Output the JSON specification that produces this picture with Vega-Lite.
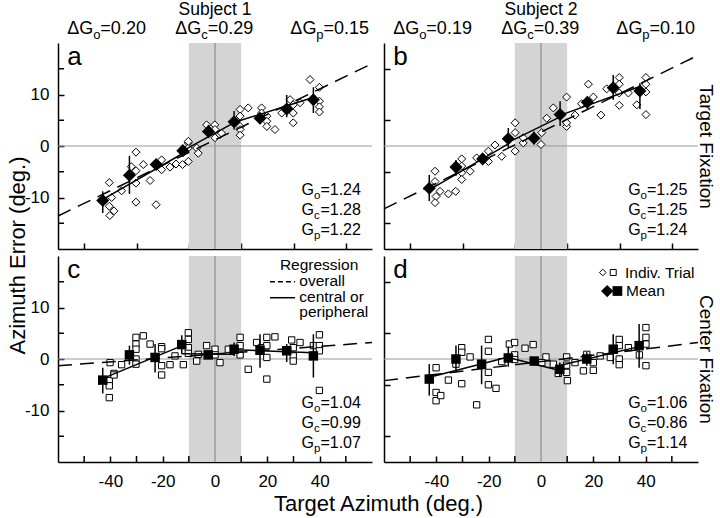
{
"$schema":"https://vega.github.io/schema/vega-lite/v6.json",
"background":"white",
"padding":{"left":6,"top":0,"right":8,"bottom":2},
"columns":2,
"spacing":{"row":7,"column":12},
"bounds":"flush",
"datasets":{
"one":[{"n":1}],
"xminor":[{"v":-50},{"v":-30},{"v":-10},{"v":10},{"v":30},{"v":50}],
"yminor":[{"v":-15},{"v":-5},{"v":5},{"v":15}],
"a_t":[{"x":-40.4,"y":-7.1},{"x":-40.4,"y":-11.7},{"x":-38.6,"y":-12.6},{"x":-40.2,"y":-13.5},{"x":-39.5,"y":-10},{"x":-35.7,"y":-8.7},{"x":-32,"y":-4},{"x":-30.2,"y":-1.2},{"x":-30.2,"y":-4.8},{"x":-30.2,"y":-7.2},{"x":-30.2,"y":-10.9},{"x":-27.4,"y":-3.6},{"x":-24.8,"y":-6.7},{"x":-22.5,"y":-11.4},{"x":-20.4,"y":-2.7},{"x":-20.4,"y":-4.6},{"x":-17.2,"y":-4.1},{"x":-14.9,"y":-3.5},{"x":-12.4,"y":-3.6},{"x":-10.2,"y":0.6},{"x":-10.2,"y":-3},{"x":-10.2,"y":-0.4},{"x":-10.2,"y":0.9},{"x":-7,"y":-0.4},{"x":-6.4,"y":-1.4},{"x":-3.2,"y":4.1},{"x":-0.1,"y":4.1},{"x":0,"y":3.2},{"x":0,"y":1.6},{"x":1.9,"y":2.2},{"x":2.5,"y":2.5},{"x":9.6,"y":7.1},{"x":12.7,"y":7.4},{"x":9.6,"y":5.8},{"x":9.6,"y":3.8},{"x":9.6,"y":3.2},{"x":9.6,"y":2.1},{"x":17.8,"y":7.4},{"x":17.8,"y":6.4},{"x":19.8,"y":5.8},{"x":19.8,"y":4.8},{"x":19.8,"y":3.8},{"x":22.9,"y":3.2},{"x":25.5,"y":6.4},{"x":28.7,"y":9},{"x":29.9,"y":8},{"x":29.9,"y":6.4},{"x":29.9,"y":4.5},{"x":32.5,"y":8.4},{"x":36.3,"y":12.9},{"x":39.9,"y":11.4},{"x":39.9,"y":8.7},{"x":39.9,"y":7.6},{"x":39.9,"y":6.6}],
"a_m":[{"x":-42.9,"y":-10.6,"lo":-13,"hi":-8.8},{"x":-32.7,"y":-5.7,"lo":-9.3,"hi":-1.9},{"x":-22.5,"y":-3.6,"lo":-4.6,"hi":-2.7},{"x":-12.3,"y":-0.9,"lo":-2,"hi":0.2},{"x":-2.5,"y":2.8,"lo":1.6,"hi":4.1},{"x":7.3,"y":4.7,"lo":3.2,"hi":6.8},{"x":17.2,"y":5.4,"lo":4.6,"hi":6.2},{"x":27.4,"y":7.2,"lo":5.6,"hi":9.9},{"x":37.6,"y":9,"lo":6.4,"hi":11.4}],
"a_r":[{"seg":"ov","x":-60,"y":-13.6},{"seg":"ov","x":60,"y":16},{"seg":"L","x":-43,"y":-10.4},{"seg":"L","x":-12.5,"y":-1.5},{"seg":"C","x":-12.5,"y":-1},{"seg":"C","x":7.5,"y":4.6},{"seg":"R","x":7.5,"y":4.6},{"seg":"R","x":37.5,"y":9.4}],
"b_t":[{"x":-40.5,"y":-4.9},{"x":-40.5,"y":-6.9},{"x":-40.1,"y":-9.8},{"x":-40.5,"y":-11},{"x":-38.6,"y":-8.8},{"x":-35.4,"y":-9.3},{"x":-32.6,"y":-8.8},{"x":-30.3,"y":-2.5},{"x":-30.3,"y":-3.9},{"x":-30.3,"y":-5.2},{"x":-30.3,"y":-6.5},{"x":-27.1,"y":-4.9},{"x":-24.6,"y":-2.3},{"x":-20.1,"y":-1},{"x":-20.1,"y":-3},{"x":-17.6,"y":0.2},{"x":-15,"y":-2},{"x":-9.9,"y":-1},{"x":-6.8,"y":0.6},{"x":0,"y":0.3},{"x":-9.9,"y":4.5},{"x":-9.9,"y":2.6},{"x":-6.8,"y":1.6},{"x":0.3,"y":2.6},{"x":2.2,"y":5.4},{"x":4.7,"y":7.4},{"x":9.8,"y":9.5},{"x":9.8,"y":3.8},{"x":9.8,"y":4.5},{"x":13,"y":6},{"x":15.5,"y":8.2},{"x":18.1,"y":12},{"x":20,"y":9.5},{"x":22.9,"y":6},{"x":25.1,"y":11.1},{"x":29.9,"y":13.3},{"x":29.9,"y":12},{"x":29.9,"y":10.3},{"x":29.9,"y":7.9},{"x":33.4,"y":10.3},{"x":36.6,"y":8},{"x":40.1,"y":13.3},{"x":40.1,"y":12},{"x":40.1,"y":10.5},{"x":40.1,"y":6.1}],
"b_m":[{"x":-42.7,"y":-8.2,"lo":-10.7,"hi":-5.6},{"x":-32.5,"y":-4.1,"lo":-5.8,"hi":-2.7},{"x":-22.3,"y":-2.5,"lo":-3.2,"hi":-1.8},{"x":-12.5,"y":1.4,"lo":-0.4,"hi":3.5},{"x":-2.7,"y":1.5,"lo":0.3,"hi":2.8},{"x":7.3,"y":6.1,"lo":3.9,"hi":8.7},{"x":17.7,"y":8.5,"lo":7.2,"hi":9.5},{"x":27.6,"y":11.3,"lo":9,"hi":13.8},{"x":37.8,"y":10.7,"lo":7.2,"hi":12.2}],
"b_r":[{"seg":"ov","x":-60,"y":-12.2},{"seg":"ov","x":60,"y":17.6},{"seg":"L","x":-43,"y":-8.6},{"seg":"L","x":-12.5,"y":0.4},{"seg":"C","x":-12.5,"y":0.7},{"seg":"C","x":7.5,"y":5.7},{"seg":"R","x":7.5,"y":6},{"seg":"R","x":37.5,"y":11.5}],
"c_t":[{"x":-40.1,"y":-0.7},{"x":-38.6,"y":-2.8},{"x":-35.7,"y":-1.1},{"x":-30.2,"y":4.2},{"x":-30.2,"y":2.9},{"x":-30.2,"y":1.9},{"x":-30.2,"y":0},{"x":-30.2,"y":-1},{"x":-27.4,"y":4.5},{"x":-24.8,"y":2.9},{"x":-20.4,"y":2.4},{"x":-20.4,"y":2},{"x":-20.4,"y":-1.3},{"x":-17.2,"y":-1.1},{"x":-15.3,"y":0.6},{"x":-12.1,"y":-1.1},{"x":-10.2,"y":5.1},{"x":-10.2,"y":3.8},{"x":-10.2,"y":2.2},{"x":-10.2,"y":1.1},{"x":-7,"y":-0.4},{"x":-6.4,"y":0.9},{"x":-3.2,"y":2.6},{"x":0,"y":1.9},{"x":0,"y":0.8},{"x":1.9,"y":-0.7},{"x":5.1,"y":1.9},{"x":9.6,"y":4.2},{"x":9.6,"y":2.6},{"x":9.6,"y":0.8},{"x":12.7,"y":-2},{"x":15.9,"y":3.2},{"x":17.8,"y":2.2},{"x":19.8,"y":4.2},{"x":19.8,"y":2.6},{"x":19.8,"y":0.3},{"x":22.9,"y":4.3},{"x":29.3,"y":3.7},{"x":29.9,"y":2.2},{"x":29.9,"y":0.6},{"x":29.9,"y":-0.4},{"x":32.5,"y":3.2},{"x":37.6,"y":2.6},{"x":39.9,"y":4.7},{"x":39.9,"y":2.6},{"x":39.9,"y":1.6},{"x":-40.4,"y":-4.2},{"x":-40.4,"y":-5.2},{"x":-40.4,"y":-7.5},{"x":-38.6,"y":-3.1},{"x":-20.4,"y":-3.1},{"x":19.8,"y":-3.9},{"x":39.9,"y":-6.1}],
"c_m":[{"x":-42.9,"y":-4.1,"lo":-6.7,"hi":-1.7},{"x":-32.7,"y":0.8,"lo":-1.1,"hi":2.6},{"x":-22.9,"y":0.3,"lo":-2.6,"hi":2.9},{"x":-12.7,"y":2.8,"lo":0.9,"hi":4.6},{"x":-2.6,"y":0.8,"lo":0,"hi":1.6},{"x":7.3,"y":1.9,"lo":0.6,"hi":3.2},{"x":17.2,"y":1.7,"lo":-1.7,"hi":4.8},{"x":27.4,"y":1.6,"lo":-0.6,"hi":2.9},{"x":37.6,"y":0.6,"lo":-3.6,"hi":4.8}],
"c_r":[{"seg":"ov","x":-60,"y":-1.3},{"seg":"ov","x":60,"y":3.2},{"seg":"L","x":-43,"y":-3.8},{"seg":"L","x":-12.5,"y":2.6},{"seg":"C","x":-12.5,"y":1},{"seg":"C","x":7.5,"y":0.9},{"seg":"R","x":7.5,"y":1.8},{"seg":"R","x":37.5,"y":1.2}],
"d_t":[{"x":-40.1,"y":-1.7},{"x":-32.5,"y":-1},{"x":-30.3,"y":2.2},{"x":-30.3,"y":1.3},{"x":-27.1,"y":0.4},{"x":-20.1,"y":-2.6},{"x":-20.1,"y":1.5},{"x":-20.1,"y":3.8},{"x":-15,"y":-0.5},{"x":-12.1,"y":2.9},{"x":-10.1,"y":3.2},{"x":-10.1,"y":0.8},{"x":-10.1,"y":-0.1},{"x":-6.1,"y":2.1},{"x":-3,"y":2.8},{"x":1.9,"y":0.4},{"x":0.3,"y":-0.7},{"x":4.7,"y":-1},{"x":6.6,"y":-2.8},{"x":9.8,"y":0.4},{"x":9.8,"y":-1.2},{"x":9.8,"y":-2.6},{"x":13,"y":-0.7},{"x":17.5,"y":0.9},{"x":20,"y":-0.7},{"x":20,"y":-2.2},{"x":22.6,"y":0.6},{"x":26.5,"y":0.3},{"x":29.9,"y":3.8},{"x":29.9,"y":2.6},{"x":29.9,"y":0},{"x":29.9,"y":-1.1},{"x":33.4,"y":2.2},{"x":37.6,"y":0.8},{"x":40.1,"y":6.1},{"x":40.1,"y":4.2},{"x":40.1,"y":2.9},{"x":40.1,"y":-1.3},{"x":-40.1,"y":-6.5},{"x":-40.1,"y":-8.1},{"x":-38.3,"y":-7.1},{"x":-35.4,"y":-4.1},{"x":-30.3,"y":-4.8},{"x":-24.6,"y":-8.9},{"x":-20.1,"y":-5},{"x":-17.2,"y":-5.7},{"x":10.1,"y":-4.2},{"x":16.2,"y":-2.3}],
"d_m":[{"x":-42.7,"y":-3.9,"lo":-7.1,"hi":-1},{"x":-32.5,"y":0,"lo":-2.6,"hi":2.6},{"x":-22.7,"y":-1,"lo":-4.9,"hi":2.6},{"x":-12.5,"y":0.2,"lo":-1.5,"hi":2.4},{"x":-2.6,"y":-0.4,"lo":-1.2,"hi":0.4},{"x":7.2,"y":-2,"lo":-3.5,"hi":-0.7},{"x":17.5,"y":0,"lo":-1.3,"hi":1.3},{"x":27.6,"y":1.9,"lo":-1,"hi":4.8},{"x":37.5,"y":2.6,"lo":-1.7,"hi":6.8}],
"d_r":[{"seg":"ov","x":-60,"y":-4.2},{"seg":"ov","x":60,"y":3.2},{"seg":"L","x":-43,"y":-3.6},{"seg":"L","x":-12.5,"y":0.4},{"seg":"C","x":-12.5,"y":0.3},{"seg":"C","x":7.5,"y":-2.3},{"seg":"R","x":7.5,"y":-1.2},{"seg":"R","x":37.5,"y":2.4}]
},
"concat":[
{"width":314,"height":206,"layer":[
{"data":{"name":"one"},"mark":{"type":"rect","color":"#d4d4d4"},"encoding":{"x":{"datum":-10,"type":"quantitative","scale":{"domain":[-60,60],"nice":false,"zero":false},"axis":{"values":[-50,-40,-30,-20,-10,0,10,20,30,40,50],"labels":false,"title":null}},"x2":{"datum":10},"y":{"datum":-20,"type":"quantitative","scale":{"domain":[-20,20],"nice":false,"zero":false},"axis":{"values":[-10,0,10],"labelExpr":"replace(datum.label, '\u2212', '-')","title":"Azimuth Error (deg.)","titleX":-41,"titleY":212,"titleAngle":-90,"titleBaseline":"middle","titleAlign":"center","titleFontSize":22}},"y2":{"datum":20}}},
{"data":{"name":"yminor"},"mark":{"type":"rule","color":"black","strokeWidth":1.5},"encoding":{"y":{"field":"v","type":"quantitative"},"x":{"datum":-60,"type":"quantitative"},"x2":{"datum":-57.7}}},
{"data":{"name":"one"},"mark":{"type":"rule","color":"#7f7f7f","strokeWidth":1},"encoding":{"x":{"datum":0,"type":"quantitative"},"y":{"datum":-20,"type":"quantitative"},"y2":{"datum":20}}},
{"data":{"name":"one"},"mark":{"type":"rule","color":"#999999","strokeWidth":1},"encoding":{"x":{"datum":-60,"type":"quantitative"},"x2":{"datum":60},"y":{"datum":0,"type":"quantitative"}}},
{"data":{"name":"a_t"},"mark":{"type":"point","shape":"diamond","filled":true,"fill":"white","stroke":"black","strokeWidth":1,"size":64,"opacity":1},"encoding":{"x":{"field":"x","type":"quantitative"},"y":{"field":"y","type":"quantitative"}}},
{"data":{"name":"a_r"},"transform":[{"filter":"datum.seg == 'ov'"}],"mark":{"type":"line","color":"black","strokeWidth":1.5,"strokeDash":[14,8]},"encoding":{"x":{"field":"x","type":"quantitative"},"y":{"field":"y","type":"quantitative"}}},
{"data":{"name":"a_r"},"transform":[{"filter":"datum.seg != 'ov'"}],"mark":{"type":"line","color":"black","strokeWidth":1.5},"encoding":{"x":{"field":"x","type":"quantitative"},"y":{"field":"y","type":"quantitative"},"detail":{"field":"seg"}}},
{"data":{"name":"a_m"},"mark":{"type":"rule","color":"black","strokeWidth":1.5},"encoding":{"x":{"field":"x","type":"quantitative"},"y":{"field":"lo","type":"quantitative"},"y2":{"field":"hi"}}},
{"data":{"name":"a_m"},"mark":{"type":"point","shape":"diamond","filled":true,"color":"black","size":170,"opacity":1},"encoding":{"x":{"field":"x","type":"quantitative"},"y":{"field":"y","type":"quantitative"}}},
{"data":{"name":"one"},"mark":{"type":"text","text":"a","fontSize":26,"align":"left","baseline":"alphabetic","color":"black"},"encoding":{"x":{"datum":-56.5,"type":"quantitative"},"y":{"datum":15.7,"type":"quantitative"}}},
{"data":{"name":"one"},"mark":{"type":"text","text":"G|G|G","lineBreak":"|","lineHeight":20,"fontSize":16,"align":"left","baseline":"alphabetic","color":"black"},"encoding":{"x":{"datum":33.1,"type":"quantitative"},"y":{"datum":-9.5,"type":"quantitative"}}},
{"data":{"name":"one"},"mark":{"type":"text","text":"o|c|p","lineBreak":"|","lineHeight":20,"fontSize":11.5,"dx":12.4,"dy":4,"align":"left","baseline":"alphabetic","color":"black"},"encoding":{"x":{"datum":33.1,"type":"quantitative"},"y":{"datum":-9.5,"type":"quantitative"}}},
{"data":{"name":"one"},"mark":{"type":"text","text":"=1.24|=1.28|=1.22","lineBreak":"|","lineHeight":20,"fontSize":16,"dx":18.8,"align":"left","baseline":"alphabetic","color":"black"},"encoding":{"x":{"datum":33.1,"type":"quantitative"},"y":{"datum":-9.5,"type":"quantitative"}}},
{"data":{"name":"one"},"mark":{"type":"text","text":"Subject 1","fontSize":17.5,"align":"center","baseline":"alphabetic","dy":-28.5,"color":"black"},"encoding":{"x":{"datum":0,"type":"quantitative"},"y":{"datum":20,"type":"quantitative"}}},
{"data":{"name":"one"},"mark":{"type":"text","text":"ΔG","fontSize":18,"align":"left","baseline":"alphabetic","dy":-9,"color":"black"},"encoding":{"x":{"datum":-56.5,"type":"quantitative"},"y":{"datum":20,"type":"quantitative"}}},
{"data":{"name":"one"},"mark":{"type":"text","text":"o","fontSize":13,"dx":26,"dy":-4,"align":"left","baseline":"alphabetic","color":"black"},"encoding":{"x":{"datum":-56.5,"type":"quantitative"},"y":{"datum":20,"type":"quantitative"}}},
{"data":{"name":"one"},"mark":{"type":"text","text":"=0.20","fontSize":18,"dx":33.2,"dy":-9,"align":"left","baseline":"alphabetic","color":"black"},"encoding":{"x":{"datum":-56.5,"type":"quantitative"},"y":{"datum":20,"type":"quantitative"}}},
{"data":{"name":"one"},"mark":{"type":"text","text":"ΔG","fontSize":18,"align":"left","baseline":"alphabetic","dy":-9,"color":"black"},"encoding":{"x":{"datum":-15.2,"type":"quantitative"},"y":{"datum":20,"type":"quantitative"}}},
{"data":{"name":"one"},"mark":{"type":"text","text":"c","fontSize":13,"dx":26,"dy":-4,"align":"left","baseline":"alphabetic","color":"black"},"encoding":{"x":{"datum":-15.2,"type":"quantitative"},"y":{"datum":20,"type":"quantitative"}}},
{"data":{"name":"one"},"mark":{"type":"text","text":"=0.29","fontSize":18,"dx":32.5,"dy":-9,"align":"left","baseline":"alphabetic","color":"black"},"encoding":{"x":{"datum":-15.2,"type":"quantitative"},"y":{"datum":20,"type":"quantitative"}}},
{"data":{"name":"one"},"mark":{"type":"text","text":"ΔG","fontSize":18,"align":"left","baseline":"alphabetic","dy":-9,"color":"black"},"encoding":{"x":{"datum":28.8,"type":"quantitative"},"y":{"datum":20,"type":"quantitative"}}},
{"data":{"name":"one"},"mark":{"type":"text","text":"p","fontSize":13,"dx":26,"dy":-4,"align":"left","baseline":"alphabetic","color":"black"},"encoding":{"x":{"datum":28.8,"type":"quantitative"},"y":{"datum":20,"type":"quantitative"}}},
{"data":{"name":"one"},"mark":{"type":"text","text":"=0.15","fontSize":18,"dx":33.2,"dy":-9,"align":"left","baseline":"alphabetic","color":"black"},"encoding":{"x":{"datum":28.8,"type":"quantitative"},"y":{"datum":20,"type":"quantitative"}}}
]},
{"width":314,"height":206,"layer":[
{"data":{"name":"one"},"mark":{"type":"rect","color":"#d4d4d4"},"encoding":{"x":{"datum":-10,"type":"quantitative","scale":{"domain":[-60,60],"nice":false,"zero":false},"axis":{"values":[-50,-40,-30,-20,-10,0,10,20,30,40,50],"labels":false,"title":null}},"x2":{"datum":10},"y":{"datum":-20,"type":"quantitative","scale":{"domain":[-20,20],"nice":false,"zero":false},"axis":{"values":[-15,-10,-5,0,5,10,15],"labels":false,"title":"Target Fixation","titleX":321,"titleY":103,"titleAngle":90,"titleBaseline":"middle","titleAlign":"center","titleFontSize":19}},"y2":{"datum":20}}},
{"data":{"name":"one"},"mark":{"type":"rule","color":"#7f7f7f","strokeWidth":1},"encoding":{"x":{"datum":0,"type":"quantitative"},"y":{"datum":-20,"type":"quantitative"},"y2":{"datum":20}}},
{"data":{"name":"one"},"mark":{"type":"rule","color":"#999999","strokeWidth":1},"encoding":{"x":{"datum":-60,"type":"quantitative"},"x2":{"datum":60},"y":{"datum":0,"type":"quantitative"}}},
{"data":{"name":"b_t"},"mark":{"type":"point","shape":"diamond","filled":true,"fill":"white","stroke":"black","strokeWidth":1,"size":64,"opacity":1},"encoding":{"x":{"field":"x","type":"quantitative"},"y":{"field":"y","type":"quantitative"}}},
{"data":{"name":"b_r"},"transform":[{"filter":"datum.seg == 'ov'"}],"mark":{"type":"line","color":"black","strokeWidth":1.5,"strokeDash":[14,8]},"encoding":{"x":{"field":"x","type":"quantitative"},"y":{"field":"y","type":"quantitative"}}},
{"data":{"name":"b_r"},"transform":[{"filter":"datum.seg != 'ov'"}],"mark":{"type":"line","color":"black","strokeWidth":1.5},"encoding":{"x":{"field":"x","type":"quantitative"},"y":{"field":"y","type":"quantitative"},"detail":{"field":"seg"}}},
{"data":{"name":"b_m"},"mark":{"type":"rule","color":"black","strokeWidth":1.5},"encoding":{"x":{"field":"x","type":"quantitative"},"y":{"field":"lo","type":"quantitative"},"y2":{"field":"hi"}}},
{"data":{"name":"b_m"},"mark":{"type":"point","shape":"diamond","filled":true,"color":"black","size":170,"opacity":1},"encoding":{"x":{"field":"x","type":"quantitative"},"y":{"field":"y","type":"quantitative"}}},
{"data":{"name":"one"},"mark":{"type":"text","text":"b","fontSize":26,"align":"left","baseline":"alphabetic","color":"black"},"encoding":{"x":{"datum":-56.5,"type":"quantitative"},"y":{"datum":15.7,"type":"quantitative"}}},
{"data":{"name":"one"},"mark":{"type":"text","text":"G|G|G","lineBreak":"|","lineHeight":20,"fontSize":16,"align":"left","baseline":"alphabetic","color":"black"},"encoding":{"x":{"datum":33.3,"type":"quantitative"},"y":{"datum":-9.5,"type":"quantitative"}}},
{"data":{"name":"one"},"mark":{"type":"text","text":"o|c|p","lineBreak":"|","lineHeight":20,"fontSize":11.5,"dx":12.4,"dy":4,"align":"left","baseline":"alphabetic","color":"black"},"encoding":{"x":{"datum":33.3,"type":"quantitative"},"y":{"datum":-9.5,"type":"quantitative"}}},
{"data":{"name":"one"},"mark":{"type":"text","text":"=1.25|=1.25|=1.24","lineBreak":"|","lineHeight":20,"fontSize":16,"dx":18.8,"align":"left","baseline":"alphabetic","color":"black"},"encoding":{"x":{"datum":33.3,"type":"quantitative"},"y":{"datum":-9.5,"type":"quantitative"}}},
{"data":{"name":"one"},"mark":{"type":"text","text":"Subject 2","fontSize":17.5,"align":"center","baseline":"alphabetic","dy":-28.5,"color":"black"},"encoding":{"x":{"datum":0,"type":"quantitative"},"y":{"datum":20,"type":"quantitative"}}},
{"data":{"name":"one"},"mark":{"type":"text","text":"ΔG","fontSize":18,"align":"left","baseline":"alphabetic","dy":-9,"color":"black"},"encoding":{"x":{"datum":-56.5,"type":"quantitative"},"y":{"datum":20,"type":"quantitative"}}},
{"data":{"name":"one"},"mark":{"type":"text","text":"o","fontSize":13,"dx":26,"dy":-4,"align":"left","baseline":"alphabetic","color":"black"},"encoding":{"x":{"datum":-56.5,"type":"quantitative"},"y":{"datum":20,"type":"quantitative"}}},
{"data":{"name":"one"},"mark":{"type":"text","text":"=0.19","fontSize":18,"dx":33.2,"dy":-9,"align":"left","baseline":"alphabetic","color":"black"},"encoding":{"x":{"datum":-56.5,"type":"quantitative"},"y":{"datum":20,"type":"quantitative"}}},
{"data":{"name":"one"},"mark":{"type":"text","text":"ΔG","fontSize":18,"align":"left","baseline":"alphabetic","dy":-9,"color":"black"},"encoding":{"x":{"datum":-15.2,"type":"quantitative"},"y":{"datum":20,"type":"quantitative"}}},
{"data":{"name":"one"},"mark":{"type":"text","text":"c","fontSize":13,"dx":26,"dy":-4,"align":"left","baseline":"alphabetic","color":"black"},"encoding":{"x":{"datum":-15.2,"type":"quantitative"},"y":{"datum":20,"type":"quantitative"}}},
{"data":{"name":"one"},"mark":{"type":"text","text":"=0.39","fontSize":18,"dx":32.5,"dy":-9,"align":"left","baseline":"alphabetic","color":"black"},"encoding":{"x":{"datum":-15.2,"type":"quantitative"},"y":{"datum":20,"type":"quantitative"}}},
{"data":{"name":"one"},"mark":{"type":"text","text":"ΔG","fontSize":18,"align":"left","baseline":"alphabetic","dy":-9,"color":"black"},"encoding":{"x":{"datum":28.8,"type":"quantitative"},"y":{"datum":20,"type":"quantitative"}}},
{"data":{"name":"one"},"mark":{"type":"text","text":"p","fontSize":13,"dx":26,"dy":-4,"align":"left","baseline":"alphabetic","color":"black"},"encoding":{"x":{"datum":28.8,"type":"quantitative"},"y":{"datum":20,"type":"quantitative"}}},
{"data":{"name":"one"},"mark":{"type":"text","text":"=0.10","fontSize":18,"dx":33.2,"dy":-9,"align":"left","baseline":"alphabetic","color":"black"},"encoding":{"x":{"datum":28.8,"type":"quantitative"},"y":{"datum":20,"type":"quantitative"}}}
]},
{"width":314,"height":206,"layer":[
{"data":{"name":"one"},"mark":{"type":"rect","color":"#d4d4d4"},"encoding":{"x":{"datum":-10,"type":"quantitative","scale":{"domain":[-60,60],"nice":false,"zero":false},"axis":{"values":[-40,-20,0,20,40],"labelExpr":"replace(datum.label, '\u2212', '-')","title":"Target Azimuth (deg.)","titleX":320,"titleY":31,"titleBaseline":"top","titleAlign":"center","titleFontSize":22}},"x2":{"datum":10},"y":{"datum":-20,"type":"quantitative","scale":{"domain":[-20,20],"nice":false,"zero":false},"axis":{"values":[-10,0,10],"labelExpr":"replace(datum.label, '\u2212', '-')","title":null}},"y2":{"datum":20}}},
{"data":{"name":"yminor"},"mark":{"type":"rule","color":"black","strokeWidth":1.5},"encoding":{"y":{"field":"v","type":"quantitative"},"x":{"datum":-60,"type":"quantitative"},"x2":{"datum":-57.7}}},
{"data":{"name":"xminor"},"mark":{"type":"rule","color":"black","strokeWidth":1.5},"encoding":{"x":{"field":"v","type":"quantitative"},"y":{"datum":-20,"type":"quantitative"},"y2":{"datum":-18.83}}},
{"data":{"name":"one"},"mark":{"type":"rule","color":"#7f7f7f","strokeWidth":1},"encoding":{"x":{"datum":0,"type":"quantitative"},"y":{"datum":-20,"type":"quantitative"},"y2":{"datum":20}}},
{"data":{"name":"one"},"mark":{"type":"rule","color":"#999999","strokeWidth":1},"encoding":{"x":{"datum":-60,"type":"quantitative"},"x2":{"datum":60},"y":{"datum":0,"type":"quantitative"}}},
{"data":{"name":"c_t"},"mark":{"type":"point","shape":"square","filled":true,"fill":"white","stroke":"black","strokeWidth":1,"size":40,"opacity":1},"encoding":{"x":{"field":"x","type":"quantitative"},"y":{"field":"y","type":"quantitative"}}},
{"data":{"name":"c_r"},"transform":[{"filter":"datum.seg == 'ov'"}],"mark":{"type":"line","color":"black","strokeWidth":1.5,"strokeDash":[14,8]},"encoding":{"x":{"field":"x","type":"quantitative"},"y":{"field":"y","type":"quantitative"}}},
{"data":{"name":"c_r"},"transform":[{"filter":"datum.seg != 'ov'"}],"mark":{"type":"line","color":"black","strokeWidth":1.5},"encoding":{"x":{"field":"x","type":"quantitative"},"y":{"field":"y","type":"quantitative"},"detail":{"field":"seg"}}},
{"data":{"name":"c_m"},"mark":{"type":"rule","color":"black","strokeWidth":1.5},"encoding":{"x":{"field":"x","type":"quantitative"},"y":{"field":"lo","type":"quantitative"},"y2":{"field":"hi"}}},
{"data":{"name":"c_m"},"mark":{"type":"point","shape":"square","filled":true,"color":"black","size":90,"opacity":1},"encoding":{"x":{"field":"x","type":"quantitative"},"y":{"field":"y","type":"quantitative"}}},
{"data":{"name":"one"},"mark":{"type":"text","text":"c","fontSize":26,"align":"left","baseline":"alphabetic","color":"black"},"encoding":{"x":{"datum":-56.5,"type":"quantitative"},"y":{"datum":15.7,"type":"quantitative"}}},
{"data":{"name":"one"},"mark":{"type":"text","text":"G|G|G","lineBreak":"|","lineHeight":20,"fontSize":16,"align":"left","baseline":"alphabetic","color":"black"},"encoding":{"x":{"datum":33.1,"type":"quantitative"},"y":{"datum":-9.5,"type":"quantitative"}}},
{"data":{"name":"one"},"mark":{"type":"text","text":"o|c|p","lineBreak":"|","lineHeight":20,"fontSize":11.5,"dx":12.4,"dy":4,"align":"left","baseline":"alphabetic","color":"black"},"encoding":{"x":{"datum":33.1,"type":"quantitative"},"y":{"datum":-9.5,"type":"quantitative"}}},
{"data":{"name":"one"},"mark":{"type":"text","text":"=1.04|=0.99|=1.07","lineBreak":"|","lineHeight":20,"fontSize":16,"dx":18.8,"align":"left","baseline":"alphabetic","color":"black"},"encoding":{"x":{"datum":33.1,"type":"quantitative"},"y":{"datum":-9.5,"type":"quantitative"}}},
{"data":{"name":"one"},"mark":{"type":"text","text":"Regression","fontSize":15.5,"align":"left","baseline":"alphabetic","color":"black"},"encoding":{"x":{"datum":24.8,"type":"quantitative"},"y":{"datum":17.3,"type":"quantitative"}}},
{"data":{"name":"one"},"mark":{"type":"text","text":"overall|central or|peripheral","lineBreak":"|","lineHeight":15.3,"fontSize":15.5,"align":"left","baseline":"alphabetic","color":"black"},"encoding":{"x":{"datum":32.2,"type":"quantitative"},"y":{"datum":14.1,"type":"quantitative"}}},
{"data":{"name":"one"},"mark":{"type":"rule","color":"black","strokeWidth":1.5,"strokeDash":[5,3]},"encoding":{"x":{"datum":21,"type":"quantitative"},"x2":{"datum":30.6},"y":{"datum":15,"type":"quantitative"}}},
{"data":{"name":"one"},"mark":{"type":"rule","color":"black","strokeWidth":1.5},"encoding":{"x":{"datum":21,"type":"quantitative"},"x2":{"datum":30.6},"y":{"datum":11.9,"type":"quantitative"}}}
]},
{"width":314,"height":206,"layer":[
{"data":{"name":"one"},"mark":{"type":"rect","color":"#d4d4d4"},"encoding":{"x":{"datum":-10,"type":"quantitative","scale":{"domain":[-60,60],"nice":false,"zero":false},"axis":{"values":[-40,-20,0,20,40],"labelExpr":"replace(datum.label, '\u2212', '-')","title":null}},"x2":{"datum":10},"y":{"datum":-20,"type":"quantitative","scale":{"domain":[-20,20],"nice":false,"zero":false},"axis":{"values":[-15,-10,-5,0,5,10,15],"labels":false,"title":"Center Fixation","titleX":321,"titleY":103,"titleAngle":90,"titleBaseline":"middle","titleAlign":"center","titleFontSize":19}},"y2":{"datum":20}}},
{"data":{"name":"xminor"},"mark":{"type":"rule","color":"black","strokeWidth":1.5},"encoding":{"x":{"field":"v","type":"quantitative"},"y":{"datum":-20,"type":"quantitative"},"y2":{"datum":-18.83}}},
{"data":{"name":"one"},"mark":{"type":"rule","color":"#7f7f7f","strokeWidth":1},"encoding":{"x":{"datum":0,"type":"quantitative"},"y":{"datum":-20,"type":"quantitative"},"y2":{"datum":20}}},
{"data":{"name":"one"},"mark":{"type":"rule","color":"#999999","strokeWidth":1},"encoding":{"x":{"datum":-60,"type":"quantitative"},"x2":{"datum":60},"y":{"datum":0,"type":"quantitative"}}},
{"data":{"name":"d_t"},"mark":{"type":"point","shape":"square","filled":true,"fill":"white","stroke":"black","strokeWidth":1,"size":40,"opacity":1},"encoding":{"x":{"field":"x","type":"quantitative"},"y":{"field":"y","type":"quantitative"}}},
{"data":{"name":"d_r"},"transform":[{"filter":"datum.seg == 'ov'"}],"mark":{"type":"line","color":"black","strokeWidth":1.5,"strokeDash":[14,8]},"encoding":{"x":{"field":"x","type":"quantitative"},"y":{"field":"y","type":"quantitative"}}},
{"data":{"name":"d_r"},"transform":[{"filter":"datum.seg != 'ov'"}],"mark":{"type":"line","color":"black","strokeWidth":1.5},"encoding":{"x":{"field":"x","type":"quantitative"},"y":{"field":"y","type":"quantitative"},"detail":{"field":"seg"}}},
{"data":{"name":"d_m"},"mark":{"type":"rule","color":"black","strokeWidth":1.5},"encoding":{"x":{"field":"x","type":"quantitative"},"y":{"field":"lo","type":"quantitative"},"y2":{"field":"hi"}}},
{"data":{"name":"d_m"},"mark":{"type":"point","shape":"square","filled":true,"color":"black","size":90,"opacity":1},"encoding":{"x":{"field":"x","type":"quantitative"},"y":{"field":"y","type":"quantitative"}}},
{"data":{"name":"one"},"mark":{"type":"text","text":"d","fontSize":26,"align":"left","baseline":"alphabetic","color":"black"},"encoding":{"x":{"datum":-56.5,"type":"quantitative"},"y":{"datum":15.7,"type":"quantitative"}}},
{"data":{"name":"one"},"mark":{"type":"text","text":"G|G|G","lineBreak":"|","lineHeight":20,"fontSize":16,"align":"left","baseline":"alphabetic","color":"black"},"encoding":{"x":{"datum":33.3,"type":"quantitative"},"y":{"datum":-9.5,"type":"quantitative"}}},
{"data":{"name":"one"},"mark":{"type":"text","text":"o|c|p","lineBreak":"|","lineHeight":20,"fontSize":11.5,"dx":12.4,"dy":4,"align":"left","baseline":"alphabetic","color":"black"},"encoding":{"x":{"datum":33.3,"type":"quantitative"},"y":{"datum":-9.5,"type":"quantitative"}}},
{"data":{"name":"one"},"mark":{"type":"text","text":"=1.06|=0.86|=1.14","lineBreak":"|","lineHeight":20,"fontSize":16,"dx":18.8,"align":"left","baseline":"alphabetic","color":"black"},"encoding":{"x":{"datum":33.3,"type":"quantitative"},"y":{"datum":-9.5,"type":"quantitative"}}},
{"data":{"name":"one"},"mark":{"type":"point","shape":"diamond","filled":true,"fill":"white","stroke":"black","strokeWidth":1,"size":45,"opacity":1},"encoding":{"x":{"datum":23.6,"type":"quantitative"},"y":{"datum":16.8,"type":"quantitative"}}},
{"data":{"name":"one"},"mark":{"type":"point","shape":"square","filled":true,"fill":"white","stroke":"black","strokeWidth":1,"size":36,"opacity":1},"encoding":{"x":{"datum":27.6,"type":"quantitative"},"y":{"datum":16.8,"type":"quantitative"}}},
{"data":{"name":"one"},"mark":{"type":"point","shape":"diamond","filled":true,"color":"black","size":150,"opacity":1},"encoding":{"x":{"datum":25.3,"type":"quantitative"},"y":{"datum":13.2,"type":"quantitative"}}},
{"data":{"name":"one"},"mark":{"type":"point","shape":"square","filled":true,"color":"black","size":95,"opacity":1},"encoding":{"x":{"datum":29.2,"type":"quantitative"},"y":{"datum":13.2,"type":"quantitative"}}},
{"data":{"name":"one"},"mark":{"type":"text","text":"Indiv. Trial","fontSize":15.5,"align":"left","baseline":"alphabetic","color":"black"},"encoding":{"x":{"datum":32.1,"type":"quantitative"},"y":{"datum":15.8,"type":"quantitative"}}},
{"data":{"name":"one"},"mark":{"type":"text","text":"Mean","fontSize":15.5,"align":"left","baseline":"alphabetic","color":"black"},"encoding":{"x":{"datum":32.5,"type":"quantitative"},"y":{"datum":12.3,"type":"quantitative"}}}
]}
],
"config":{
"view":{"stroke":null},
"font":"Liberation Sans",
"text":{"font":"Liberation Sans"},
"axis":{"domainColor":"black","domainWidth":1.5,"tickColor":"black","tickWidth":1.5,"tickSize":-6,"labelFont":"Liberation Sans","labelFontSize":17,"labelColor":"black","titleFont":"Liberation Sans","titleFontSize":21,"titleFontWeight":"normal","titleColor":"black","grid":false},
"axisX":{"labelPadding":17},
"axisY":{"labelPadding":15}
}
}
